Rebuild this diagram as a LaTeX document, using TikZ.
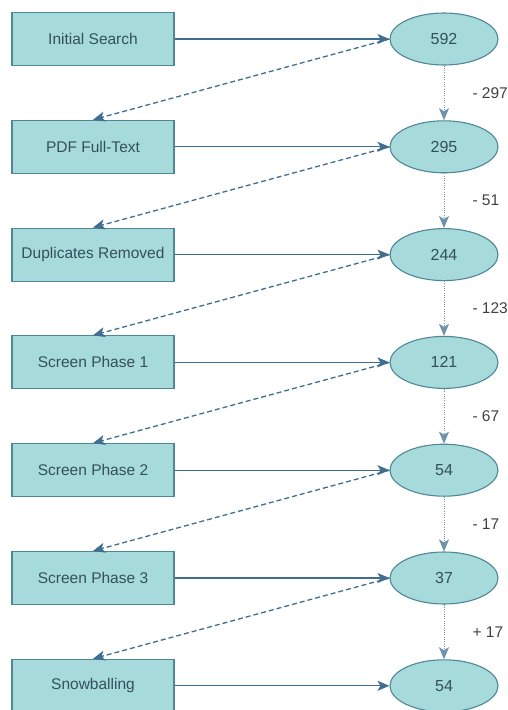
\documentclass[tikz,border=0pt]{standalone}
\usepackage{fontspec}
\setmainfont{Liberation Sans}
\usetikzlibrary{arrows.meta,positioning,calc,shapes.geometric}

\definecolor{boxfill}{HTML}{A7DADB}
\definecolor{boxline}{HTML}{4E8797}
\definecolor{arrowcol}{HTML}{3F6E90}
\definecolor{textcol}{HTML}{34505C}

\begin{document}
\begin{tikzpicture}[
  x=1pt,
  y=-1pt,
  >={Stealth[length=12pt,width=10pt,inset=3pt]},
  stagebox/.style={draw=boxline, fill=boxfill, line width=1.1pt, minimum width=162pt,
    minimum height=53pt, inner sep=0pt, font=\fontsize{15.5}{17}\selectfont, text=textcol},
  countbox/.style={ellipse, draw=boxline, fill=boxfill, line width=1.1pt, minimum width=108pt,
    minimum height=52pt, inner sep=0pt, font=\fontsize{16}{18}\selectfont, text=textcol},
  flow/.style={->, draw=arrowcol, line width=1.3pt},
  back/.style={->, draw=arrowcol, line width=1.3pt, dash pattern=on 5pt off 3pt},
  drop/.style={->, draw=arrowcol!75, line width=0.9pt, dash pattern=on 1pt off 1.3pt},
  delta/.style={font=\fontsize{15.5}{17}\selectfont, text=black!75, anchor=west}
]
\useasboundingbox (0,0) rectangle (508,710);

% Stages (left) and counts (right).
\foreach \i/\stage/\num in {1/Initial Search/592,2/PDF Full-Text/295,3/Duplicates Removed/244,
    4/Screen Phase 1/121,5/Screen Phase 2/54,6/Screen Phase 3/37,7/Snowballing/54} {
  \node[stagebox] (b\i) at (93,{39+107.8*(\i-1)}) {\stage};
  \node[countbox] (e\i) at (444,{39+107.8*(\i-1)}) {\num};
  \draw[flow] (b\i) -- (e\i);
}

% Feedback from each count to the next stage, and change between counts.
\foreach \i/\j/\lab in {1/2/- 297,2/3/- 51,3/4/- 123,4/5/- 67,5/6/- 17,6/7/+ 17} {
  \draw[back] (e\i.west) -- (b\j.north);
  \draw[drop] (e\i.south) -- (e\j.north);
  \node[delta] (d\i) at ($($(e\i.south)!0.5!(e\j.north)$)+(25,0)$) {\lab};
}
\end{tikzpicture}
\end{document}
